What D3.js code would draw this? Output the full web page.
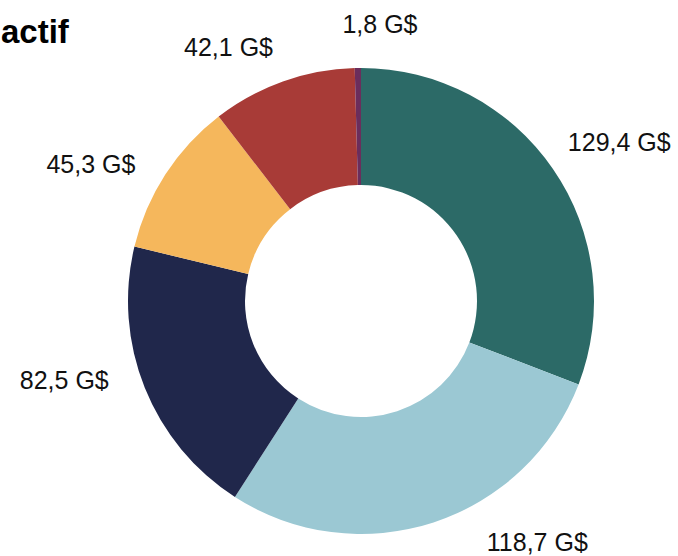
<!DOCTYPE html>
<html><head><meta charset="utf-8">
<script src="https://cdn.jsdelivr.net/npm/d3@7"></script>
<style>body{margin:0;background:#fff}svg{display:block}</style>
</head><body>
<svg id="c" width="678" height="556"></svg>
<script>
const categories = ["A", "B", "C", "D", "E", "F"];
const values = [129.4, 118.7, 82.5, 45.3, 42.1, 1.8];
const labels = ["129,4 G$", "118,7 G$", "82,5 G$", "45,3 G$", "42,1 G$", "1,8 G$"];
const colors = ["#2c6a67", "#9bc8d3", "#20274b", "#f5b75c", "#a83b37", "#6b2d5c"];
const title = "actif";

const W = 678, H = 556;
const cx = 361, cy = 301, R = 233, r0 = 116;
const svg = d3.select("#c");

// layout nudges for label placement (degrees, radius)
const labelNudge = [3, -18, 7, -6, -8, 4.7];
const labelRad = [303, 299, 307, 303, 286, 277];

const pie = d3.pie().sort(null).value(d => d)(values);
const arc = d3.arc().innerRadius(r0).outerRadius(R);
const color = d3.scaleOrdinal().domain(categories).range(colors);

const g = svg.append("g").attr("transform", `translate(${cx},${cy})`);
g.selectAll("path").data(pie).join("path")
  .attr("d", arc)
  .attr("fill", (d, i) => color(categories[i]));

g.selectAll("text").data(pie).join("text")
  .each(function (d, i) {
    const a = (d.startAngle + d.endAngle) / 2 + labelNudge[i] * Math.PI / 180;
    const rr = labelRad[i];
    d3.select(this)
      .attr("x", rr * Math.sin(a))
      .attr("y", -rr * Math.cos(a))
      .attr("dy", "0.35em");
  })
  .attr("text-anchor", "middle")
  .attr("font-family", "Liberation Sans, Arial, sans-serif")
  .attr("font-size", 25)
  .attr("fill", "#111")
  .text((d, i) => labels[i]);

svg.append("text")
  .attr("x", 1).attr("y", 43)
  .attr("text-anchor", "start")
  .attr("font-family", "Liberation Sans, Arial, sans-serif")
  .attr("font-weight", "bold")
  .attr("font-size", 33)
  .attr("fill", "#000")
  .text(title);
</script>
</body></html>
